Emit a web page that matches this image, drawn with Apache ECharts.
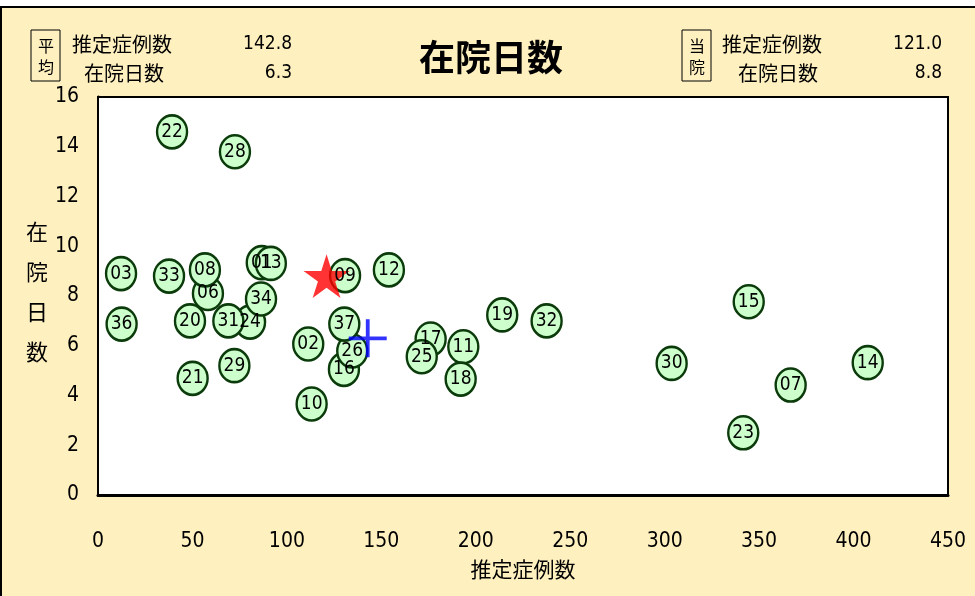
<!DOCTYPE html>
<html><head><meta charset="utf-8">
<script src="https://cdn.jsdelivr.net/npm/echarts@6/dist/echarts.min.js"></script>
<style>html,body{margin:0;padding:0;background:#fff}#c{width:975px;height:596px}</style>
</head><body><div id="c"></div>
<script>
const labels = ['01','02','03','06','07','08','09','10','11','12','13','14','15','16','17','18','19','20','21','22','23','24','25','26','28','29','30','31','32','33','34','36','37'];
const cases  = [86.7,111.3,12.2,58.2,366.7,56.6,130.8,113.1,193.4,154.0,91.5,407.5,344.5,130.2,176.1,192.0,214.0,48.7,50.1,39.2,341.6,80.5,171.4,134.6,72.5,72.2,303.7,69.0,237.5,37.6,86.3,12.5,130.4];
const days   = [9.34,6.07,8.9,8.1,4.42,9.05,8.82,3.66,5.96,9.05,9.31,5.32,7.77,5.05,6.27,4.66,7.24,7.0,4.69,14.6,2.5,6.95,5.56,5.79,13.8,5.2,5.29,7.0,7.0,8.8,7.88,6.87,6.87];
const avgCases = 142.8, avgDays = 6.3;
const hospCases = 121.0, hospDays = 8.8;
const xTicks = [0,50,100,150,200,250,300,350,400,450];
const yTicks = [0,2,4,6,8,10,12,14,16];

const NARROW = '"DejaVu Sans Condensed","Liberation Sans Narrow",sans-serif';
const CJK = '"Noto Sans CJK JP",sans-serif';

const chart = echarts.init(document.getElementById('c'));
const pts = labels.map((l,i)=>[cases[i], days[i], l]);

chart.setOption({
  animation:false,
  backgroundColor:'#fff',
  grid:{left:98,right:27,top:97,bottom:101,show:true,backgroundColor:'#fff',borderColor:'#000',borderWidth:2,z:1},
  xAxis:{type:'value',min:xTicks[0],max:xTicks[xTicks.length-1],interval:50,
    axisLine:{show:true,onZero:false,lineStyle:{color:'#000',width:3}},
    axisTick:{show:true,inside:true,length:8,lineStyle:{color:'#000',width:2}},
    splitLine:{show:false},
    axisLabel:{margin:36,color:'#000',fontSize:21,fontFamily:NARROW},
    name:'推定症例数',nameLocation:'middle',nameGap:64,
    nameTextStyle:{color:'#000',fontSize:21,fontFamily:CJK}},
  yAxis:{type:'value',min:yTicks[0],max:yTicks[yTicks.length-1],interval:2,
    axisLine:{show:true,onZero:false,lineStyle:{color:'#000',width:3}},
    axisTick:{show:true,inside:true,length:7,lineStyle:{color:'#000',width:2}},
    splitLine:{show:true,lineStyle:{color:'#222',width:1,type:[7,5]}},
    axisLabel:{margin:19,color:'#000',fontSize:21,fontFamily:NARROW}},
  graphic:{elements:[
    {type:'rect',z:-1,shape:{x:1,y:7,width:990,height:600},style:{fill:'#FFF0C0',stroke:'#000',lineWidth:2}},
    {type:'text',x:491,y:57,style:{text:'在院日数',fill:'#000',font:'bold 36px "Noto Sans CJK JP",sans-serif',textAlign:'center',textVerticalAlign:'middle'}},
    {type:'rect',shape:{x:31,y:30,width:29,height:51},style:{fill:'none',stroke:'#000',lineWidth:1}},
    {type:'text',x:46,y:56,style:{text:'平\n均',fill:'#000',font:'16px "Noto Sans CJK JP",sans-serif',lineHeight:21,textAlign:'center',textVerticalAlign:'middle'}},
    {type:'text',x:72,y:44,style:{text:'推定症例数',fill:'#000',font:'20px "Noto Sans CJK JP",sans-serif',textVerticalAlign:'middle'}},
    {type:'text',x:84,y:73,style:{text:'在院日数',fill:'#000',font:'20px "Noto Sans CJK JP",sans-serif',textVerticalAlign:'middle'}},
    {type:'text',x:292,y:44,style:{text:avgCases.toFixed(1),fill:'#000',font:'19px '+NARROW,textAlign:'right',textVerticalAlign:'middle'}},
    {type:'text',x:292,y:73,style:{text:avgDays.toFixed(1),fill:'#000',font:'19px '+NARROW,textAlign:'right',textVerticalAlign:'middle'}},
    {type:'rect',shape:{x:682,y:30,width:29,height:51},style:{fill:'none',stroke:'#000',lineWidth:1}},
    {type:'text',x:697,y:56,style:{text:'当\n院',fill:'#000',font:'16px "Noto Sans CJK JP",sans-serif',lineHeight:21,textAlign:'center',textVerticalAlign:'middle'}},
    {type:'text',x:722,y:44,style:{text:'推定症例数',fill:'#000',font:'20px "Noto Sans CJK JP",sans-serif',textVerticalAlign:'middle'}},
    {type:'text',x:738,y:73,style:{text:'在院日数',fill:'#000',font:'20px "Noto Sans CJK JP",sans-serif',textVerticalAlign:'middle'}},
    {type:'text',x:942,y:44,style:{text:hospCases.toFixed(1),fill:'#000',font:'19px '+NARROW,textAlign:'right',textVerticalAlign:'middle'}},
    {type:'text',x:942,y:73,style:{text:hospDays.toFixed(1),fill:'#000',font:'19px '+NARROW,textAlign:'right',textVerticalAlign:'middle'}},
    {type:'text',x:37,y:292,style:{text:'在\n院\n日\n数',fill:'#000',font:'22px "Noto Sans CJK JP",sans-serif',lineHeight:40,textAlign:'center',textVerticalAlign:'middle'}}
  ]},
  series:[
    {type:'scatter',z:3,data:pts,symbol:'circle',symbolSize:[30,33],
     itemStyle:{color:'#CCFFCC',borderColor:'#0B3B0B',borderWidth:2.5,opacity:1},
     label:{show:false},emphasis:{disabled:true}},
    {type:'scatter',z:4,data:[[hospCases,hospDays]],
     symbol:'path://M50,0 L61,35 L98,35 L68,57 L79,91 L50,70 L21,91 L32,57 L2,35 L39,35 Z',
     symbolSize:46,symbolKeepAspect:true,itemStyle:{color:'#FF0000'},emphasis:{disabled:true}},
    {type:'scatter',z:5,data:[[avgCases,avgDays]],
     symbol:'path://M0,45H100V55H0Z M45,0H55V100H45Z',
     symbolSize:38,itemStyle:{color:'#0000FF'},emphasis:{disabled:true}},
    {type:'scatter',z:6,data:pts,symbol:'circle',symbolSize:2,
     itemStyle:{color:'#CCFFCC',opacity:1},
     label:{show:true,position:'inside',formatter:p=>p.value[2],color:'#000',opacity:1,textBorderWidth:0,fontSize:19,fontFamily:NARROW},
     emphasis:{disabled:true}}
  ]
});
</script></body></html>
